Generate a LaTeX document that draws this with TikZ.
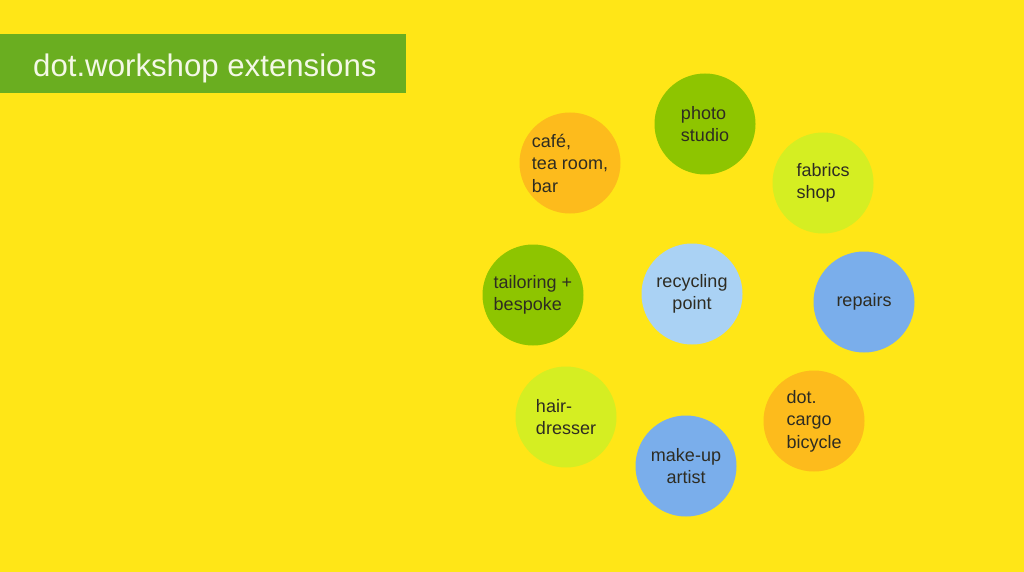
\documentclass[tikz,border=0pt]{standalone}
\usepackage{fontspec}
\setmainfont{Liberation Sans}
\definecolor{bgyellow}{HTML}{FFE617}
\definecolor{titlegreen}{HTML}{6AAE20}
\definecolor{titletext}{HTML}{F4F8E6}
\definecolor{corange}{HTML}{FDBB1C}
\definecolor{cgreen}{HTML}{8EC500}
\definecolor{clime}{HTML}{D5EE22}
\definecolor{clightblue}{HTML}{AAD2F4}
\definecolor{cblue}{HTML}{7AAEEB}
\definecolor{ctext}{HTML}{2E2C22}
\tikzset{
  bubble/.style={circle, minimum size=101pt, inner sep=0pt, draw=none, fill=#1,
    text=ctext, font=\fontsize{18}{22.5}\selectfont, align=left},
  bubblec/.style={bubble=#1, align=center}
}
\begin{document}
\begin{tikzpicture}[x=1pt,y=-1pt]
\fill[bgyellow] (0,0) rectangle (1024,572);
\useasboundingbox (0,0) rectangle (1024,572);
\fill[titlegreen] (0,34) rectangle (406,93);
\node[anchor=base west, inner sep=0pt, text=titletext, font=\fontsize{31.2}{36}\selectfont] (title) at (33,76.5) {dot.workshop extensions};

\node[bubble=corange] (cafe) at (570,163) {café,\\tea room,\\bar};
\node[bubble=cgreen] (photo) at (705,124) {photo\\studio};
\node[bubble=clime] (fabrics) at (823,183) {fabrics\\shop};
\node[bubble=cgreen] (tailoring) at (533,295) {tailoring +\\bespoke};
\node[bubblec=clightblue] (recycling) at (692,294) {recycling\\point};
\node[bubblec=cblue] (repairs) at (864,302) {repairs};
\node[bubble=clime] (hair) at (566,417) {hair-\\dresser};
\node[bubblec=cblue] (makeup) at (686,466) {make-up\\artist};
\node[bubble=corange] (cargo) at (814,421) {dot.\\cargo\\bicycle};
\end{tikzpicture}
\end{document}
